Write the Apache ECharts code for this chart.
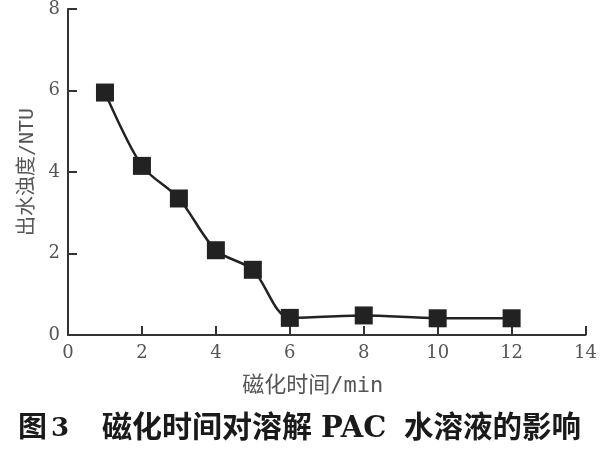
<!DOCTYPE html>
<html><head><meta charset="utf-8">
<script src="https://cdn.jsdelivr.net/npm/echarts@6/dist/echarts.min.js"></script>
<style>html,body{margin:0;padding:0;background:#fff}#c{width:600px;height:450px}</style>
</head><body><div id="c"></div>
<script>
var times = [1, 2, 3, 4, 5, 6, 8, 10, 12];
var turbidity = [5.95, 4.15, 3.35, 2.08, 1.6, 0.42, 0.48, 0.41, 0.41];
var xTicks = [0, 2, 4, 6, 8, 10, 12, 14];
var yTicks = [0, 2, 4, 6, 8];
var xName = '磁化时间/min';
var yName = '出水浊度/NTU';
var captionParts = ['图', '3', '磁化时间对溶解', 'PAC', '水溶液的影响'];

var chart = echarts.init(document.getElementById('c'));
var serif = '"DejaVu Serif", "Liberation Serif", serif';
var nameFont = '"DejaVu Sans Mono", "Noto Sans CJK SC", monospace';
var cjk = '"Noto Sans CJK SC", sans-serif';

// caption layout: [left x, centre y, font family, size, weight]
var capLayout = [
  [18, 426, cjk, 29, 'bold'],
  [51, 429, serif, 26, 'bold'],
  [102, 426, cjk, 30, 'bold'],
  [321, 429, serif, 29, 'bold'],
  [404, 426, cjk, 29.5, 'bold']
];
var capGraphics = captionParts.map(function (t, i) {
  var L = capLayout[i];
  return {
    type: 'text', x: L[0], y: L[1],
    style: {text: t, fontSize: L[3], fontWeight: L[4], fill: '#1a1a1a',
      fontFamily: L[2], textVerticalAlign: 'middle', verticalAlign: 'middle'}
  };
});

chart.setOption({
  backgroundColor: '#fff',
  animation: false,
  grid: {left: 68, right: 8, top: 5, bottom: 115},
  xAxis: {
    type: 'value', min: 0, max: 14, interval: 2,
    name: xName, nameLocation: 'middle', nameGap: 40,
    nameTextStyle: {fontSize: 22, color: '#555', fontFamily: nameFont, padding: [0, 28, 0, 0]},
    axisLine: {show: true, lineStyle: {color: '#333', width: 2}},
    axisTick: {show: true, inside: true, length: 9, lineStyle: {color: '#333', width: 2}},
    axisLabel: {fontSize: 18, color: '#555', fontFamily: serif, margin: 9},
    splitLine: {show: false}
  },
  yAxis: {
    type: 'value', min: 0, max: 8, interval: 2,
    name: yName, nameLocation: 'middle', nameGap: 30, nameRotate: 90,
    nameTextStyle: {fontSize: 20, color: '#555', fontFamily: nameFont},
    axisLine: {show: true, lineStyle: {color: '#333', width: 2}},
    axisTick: {show: true, inside: true, length: 9, lineStyle: {color: '#333', width: 2}},
    axisLabel: {fontSize: 18, color: '#555', fontFamily: serif, margin: 8},
    splitLine: {show: false}
  },
  series: [{
    type: 'line',
    data: times.map(function (t, i) { return [t, turbidity[i]]; }),
    smooth: 0.3,
    symbol: 'rect', symbolSize: 18,
    itemStyle: {color: '#222'},
    lineStyle: {color: '#222', width: 2.5}
  }],
  graphic: capGraphics
});
</script></body></html>
